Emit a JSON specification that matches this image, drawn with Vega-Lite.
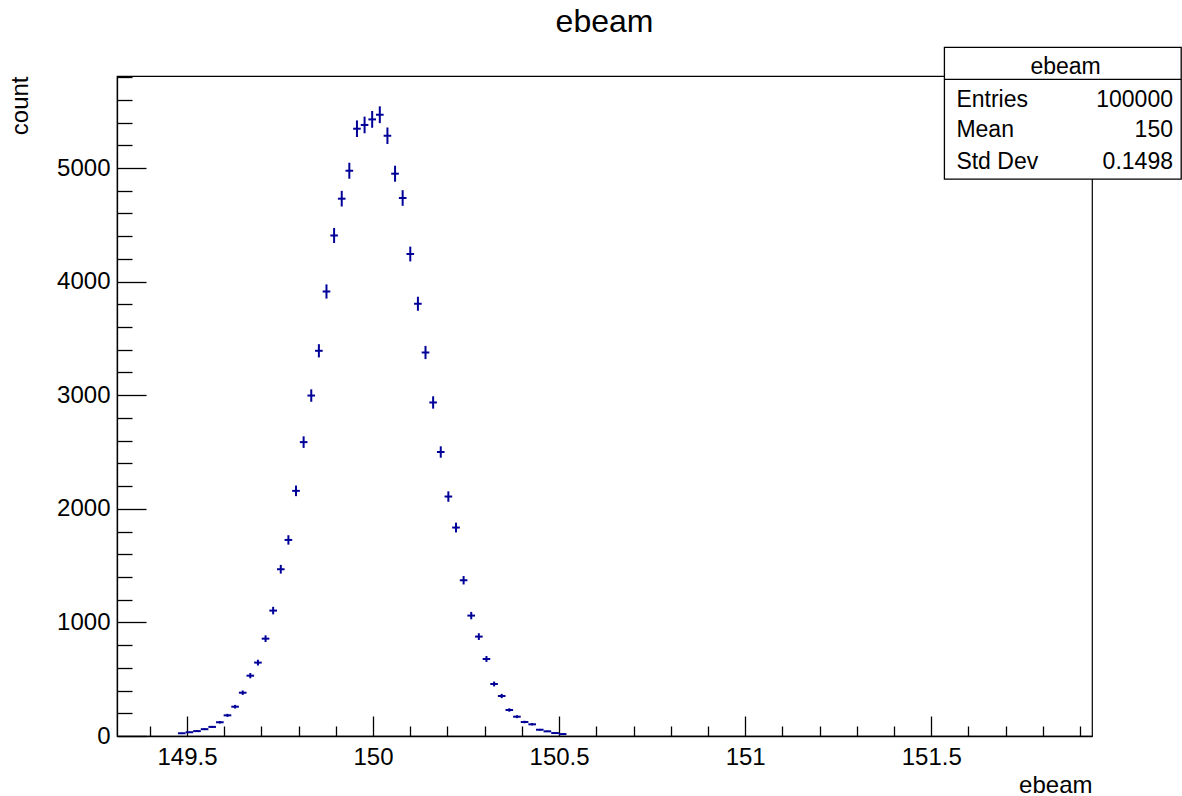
{
  "$schema": "https://vega.github.io/schema/vega-lite/v6.json",
  "width": 975,
  "height": 660,
  "autosize": {"type": "none"},
  "padding": {"left": 117, "top": 76, "right": 90, "bottom": 60},
  "background": "white",
  "config": {
    "font": "Liberation Sans",
    "view": {"stroke": "#000000", "strokeWidth": 1.2},
    "axis": {"grid": false}
  },
  "data": {
    "values": [
      {"x": 149.486, "x1": 149.4758, "x2": 149.4962, "y": 24, "err": 4.9},
      {"x": 149.5065, "x1": 149.4962, "x2": 149.5167, "y": 33, "err": 5.7},
      {"x": 149.5269, "x1": 149.5167, "x2": 149.5372, "y": 43, "err": 6.6},
      {"x": 149.5474, "x1": 149.5372, "x2": 149.5576, "y": 60, "err": 7.7},
      {"x": 149.5679, "x1": 149.5576, "x2": 149.5781, "y": 80, "err": 8.9},
      {"x": 149.5883, "x1": 149.5781, "x2": 149.5986, "y": 121, "err": 11.0},
      {"x": 149.6088, "x1": 149.5986, "x2": 149.6191, "y": 182, "err": 13.5},
      {"x": 149.6293, "x1": 149.6191, "x2": 149.6395, "y": 258, "err": 16.1},
      {"x": 149.6498, "x1": 149.6395, "x2": 149.66, "y": 381, "err": 19.5},
      {"x": 149.6702, "x1": 149.66, "x2": 149.6805, "y": 531, "err": 23.0},
      {"x": 149.6907, "x1": 149.6805, "x2": 149.7009, "y": 646, "err": 25.4},
      {"x": 149.7112, "x1": 149.7009, "x2": 149.7214, "y": 857, "err": 29.3},
      {"x": 149.7316, "x1": 149.7214, "x2": 149.7419, "y": 1104, "err": 33.2},
      {"x": 149.7521, "x1": 149.7419, "x2": 149.7623, "y": 1468, "err": 38.3},
      {"x": 149.7726, "x1": 149.7623, "x2": 149.7828, "y": 1726, "err": 41.5},
      {"x": 149.793, "x1": 149.7828, "x2": 149.8033, "y": 2158, "err": 46.5},
      {"x": 149.8135, "x1": 149.8033, "x2": 149.8238, "y": 2587, "err": 50.9},
      {"x": 149.834, "x1": 149.8238, "x2": 149.8442, "y": 2997, "err": 54.7},
      {"x": 149.8545, "x1": 149.8442, "x2": 149.8647, "y": 3391, "err": 58.2},
      {"x": 149.8749, "x1": 149.8647, "x2": 149.8852, "y": 3913, "err": 62.6},
      {"x": 149.8954, "x1": 149.8852, "x2": 149.9056, "y": 4406, "err": 66.4},
      {"x": 149.9159, "x1": 149.9056, "x2": 149.9261, "y": 4730, "err": 68.8},
      {"x": 149.9363, "x1": 149.9261, "x2": 149.9466, "y": 4976, "err": 70.5},
      {"x": 149.9568, "x1": 149.9466, "x2": 149.967, "y": 5346, "err": 73.1},
      {"x": 149.9773, "x1": 149.967, "x2": 149.9875, "y": 5379, "err": 73.3},
      {"x": 149.9977, "x1": 149.9875, "x2": 150.008, "y": 5428, "err": 73.7},
      {"x": 150.0182, "x1": 150.008, "x2": 150.0285, "y": 5469, "err": 74.0},
      {"x": 150.0387, "x1": 150.0285, "x2": 150.0489, "y": 5284, "err": 72.7},
      {"x": 150.0592, "x1": 150.0489, "x2": 150.0694, "y": 4950, "err": 70.4},
      {"x": 150.0796, "x1": 150.0694, "x2": 150.0899, "y": 4736, "err": 68.8},
      {"x": 150.1001, "x1": 150.0899, "x2": 150.1103, "y": 4243, "err": 65.1},
      {"x": 150.1206, "x1": 150.1103, "x2": 150.1308, "y": 3805, "err": 61.7},
      {"x": 150.141, "x1": 150.1308, "x2": 150.1513, "y": 3376, "err": 58.1},
      {"x": 150.1615, "x1": 150.1513, "x2": 150.1717, "y": 2936, "err": 54.2},
      {"x": 150.182, "x1": 150.1717, "x2": 150.1922, "y": 2500, "err": 50.0},
      {"x": 150.2024, "x1": 150.1922, "x2": 150.2127, "y": 2108, "err": 45.9},
      {"x": 150.2229, "x1": 150.2127, "x2": 150.2332, "y": 1835, "err": 42.8},
      {"x": 150.2434, "x1": 150.2332, "x2": 150.2536, "y": 1371, "err": 37.0},
      {"x": 150.2639, "x1": 150.2536, "x2": 150.2741, "y": 1060, "err": 32.6},
      {"x": 150.2843, "x1": 150.2741, "x2": 150.2946, "y": 875, "err": 29.6},
      {"x": 150.3048, "x1": 150.2946, "x2": 150.315, "y": 678, "err": 26.0},
      {"x": 150.3253, "x1": 150.315, "x2": 150.3355, "y": 458, "err": 21.4},
      {"x": 150.3457, "x1": 150.3355, "x2": 150.356, "y": 352, "err": 18.8},
      {"x": 150.3662, "x1": 150.356, "x2": 150.3764, "y": 229, "err": 15.1},
      {"x": 150.3867, "x1": 150.3764, "x2": 150.3969, "y": 170, "err": 13.0},
      {"x": 150.4071, "x1": 150.3969, "x2": 150.4174, "y": 123, "err": 11.1},
      {"x": 150.4276, "x1": 150.4174, "x2": 150.4379, "y": 103, "err": 10.1},
      {"x": 150.4481, "x1": 150.4379, "x2": 150.4583, "y": 55, "err": 7.4},
      {"x": 150.4686, "x1": 150.4583, "x2": 150.4788, "y": 41, "err": 6.4},
      {"x": 150.489, "x1": 150.4788, "x2": 150.4993, "y": 26, "err": 5.1},
      {"x": 150.5095, "x1": 150.4993, "x2": 150.5197, "y": 17, "err": 4.1}
    ]
  },
  "resolve": {"axis": {"x": "independent", "y": "independent"}},
  "layer": [
    {
      "mark": {"type": "errorbar", "color": "#000099", "thickness": 2, "ticks": false},
      "encoding": {
        "x": {
          "field": "x", "type": "quantitative",
          "scale": {"domain": [149.312, 151.932], "nice": false, "zero": false},
          "axis": {
            "orient": "bottom",
            "values": [149.5, 150, 150.5, 151, 151.5],
            "format": "~g",
            "title": "ebeam",
            "titleFont": "Liberation Sans", "titleFontSize": 24, "titleFontWeight": "normal", "titleColor": "#000000",
            "titleAnchor": "end", "titleAlign": "right", "titleBaseline": "alphabetic",
            "titleX": 975, "titleY": 56,
            "labelFont": "Liberation Sans", "labelFontSize": 24, "labelColor": "#000000",
            "labelPadding": 29, "labelBaseline": "top",
            "tickSize": -20, "tickColor": "#000000", "tickWidth": 1.3,
            "domainColor": "#000000", "domainWidth": 1.3
          }
        },
        "y": {
          "field": "y", "type": "quantitative",
          "scale": {"domain": [0, 5810], "nice": false, "zero": true},
          "axis": {
            "orient": "left",
            "values": [0, 1000, 2000, 3000, 4000, 5000],
            "format": "d",
            "title": "count",
            "titleFont": "Liberation Sans", "titleFontSize": 24, "titleFontWeight": "normal", "titleColor": "#000000",
            "titleAngle": 270, "titleAlign": "right", "titleBaseline": "middle",
            "titleX": -97, "titleY": 0,
            "labelFont": "Liberation Sans", "labelFontSize": 24, "labelColor": "#000000",
            "labelPadding": 36,
            "tickSize": -29, "tickColor": "#000000", "tickWidth": 1.3,
            "domainColor": "#000000", "domainWidth": 1.3
          }
        },
        "yError": {"field": "err"}
      }
    },
    {
      "mark": {"type": "rule", "color": "#000099", "strokeWidth": 2},
      "encoding": {
        "x": {
          "field": "x1", "type": "quantitative",
          "axis": {
            "orient": "bottom",
            "values": [149.4, 149.6, 149.7, 149.8, 149.9, 150.1, 150.2, 150.3, 150.4, 150.6, 150.7, 150.8, 150.9, 151.1, 151.2, 151.3, 151.4, 151.6, 151.7, 151.8, 151.9],
            "labels": false, "domain": false, "title": null,
            "tickSize": -10, "tickColor": "#000000", "tickWidth": 1.3
          }
        },
        "x2": {"field": "x2"},
        "y": {
          "field": "y", "type": "quantitative",
          "axis": {
            "orient": "left",
            "values": [200, 400, 600, 800, 1200, 1400, 1600, 1800, 2200, 2400, 2600, 2800, 3200, 3400, 3600, 3800, 4200, 4400, 4600, 4800, 5200, 5400, 5600, 5800],
            "labels": false, "domain": false, "title": null,
            "tickSize": -15, "tickColor": "#000000", "tickWidth": 1.3
          }
        }
      }
    },
    {
      "data": {"values": [{}]},
      "mark": {"type": "text", "font": "Liberation Sans", "fontSize": 32, "color": "#000000", "align": "center", "baseline": "alphabetic"},
      "encoding": {
        "x": {"datum": 150.622, "type": "quantitative", "axis": null},
        "y": {"datum": 6197, "type": "quantitative", "axis": null},
        "text": {"value": "ebeam"}
      }
    },
    {
      "data": {"values": [{}]},
      "mark": {"type": "rect", "fill": "#ffffff", "stroke": "#000000", "strokeWidth": 1.3, "clip": false},
      "encoding": {
        "x": {"datum": 151.5354, "type": "quantitative", "axis": null},
        "x2": {"datum": 152.1717},
        "y": {"datum": 6062, "type": "quantitative", "axis": null},
        "y2": {"datum": 4903}
      }
    },
    {
      "data": {"values": [{}]},
      "mark": {"type": "rule", "stroke": "#000000", "strokeWidth": 1.3, "clip": false},
      "encoding": {
        "x": {"datum": 151.5354, "type": "quantitative", "axis": null},
        "x2": {"datum": 152.1717},
        "y": {"datum": 5781, "type": "quantitative", "axis": null}
      }
    },
    {
      "data": {"values": [{}]},
      "mark": {"type": "text", "font": "Liberation Sans", "fontSize": 23, "color": "#000000", "align": "center", "baseline": "alphabetic"},
      "encoding": {
        "x": {"datum": 151.861, "type": "quantitative", "axis": null},
        "y": {"datum": 5825, "type": "quantitative", "axis": null},
        "text": {"value": "ebeam"}
      }
    },
    {
      "data": {"values": [{}]},
      "mark": {"type": "text", "font": "Liberation Sans", "fontSize": 23, "color": "#000000", "align": "left", "baseline": "alphabetic"},
      "encoding": {
        "x": {"datum": 151.5676, "type": "quantitative", "axis": null},
        "y": {"datum": 5540, "type": "quantitative", "axis": null},
        "text": {"value": "Entries"}
      }
    },
    {
      "data": {"values": [{}]},
      "mark": {"type": "text", "font": "Liberation Sans", "fontSize": 23, "color": "#000000", "align": "right", "baseline": "alphabetic"},
      "encoding": {
        "x": {"datum": 152.1496, "type": "quantitative", "axis": null},
        "y": {"datum": 5540, "type": "quantitative", "axis": null},
        "text": {"value": "100000"}
      }
    },
    {
      "data": {"values": [{}]},
      "mark": {"type": "text", "font": "Liberation Sans", "fontSize": 23, "color": "#000000", "align": "left", "baseline": "alphabetic"},
      "encoding": {
        "x": {"datum": 151.5676, "type": "quantitative", "axis": null},
        "y": {"datum": 5276, "type": "quantitative", "axis": null},
        "text": {"value": "Mean"}
      }
    },
    {
      "data": {"values": [{}]},
      "mark": {"type": "text", "font": "Liberation Sans", "fontSize": 23, "color": "#000000", "align": "right", "baseline": "alphabetic"},
      "encoding": {
        "x": {"datum": 152.1496, "type": "quantitative", "axis": null},
        "y": {"datum": 5276, "type": "quantitative", "axis": null},
        "text": {"value": "150"}
      }
    },
    {
      "data": {"values": [{}]},
      "mark": {"type": "text", "font": "Liberation Sans", "fontSize": 23, "color": "#000000", "align": "left", "baseline": "alphabetic"},
      "encoding": {
        "x": {"datum": 151.5676, "type": "quantitative", "axis": null},
        "y": {"datum": 4989, "type": "quantitative", "axis": null},
        "text": {"value": "Std Dev"}
      }
    },
    {
      "data": {"values": [{}]},
      "mark": {"type": "text", "font": "Liberation Sans", "fontSize": 23, "color": "#000000", "align": "right", "baseline": "alphabetic"},
      "encoding": {
        "x": {"datum": 152.1496, "type": "quantitative", "axis": null},
        "y": {"datum": 4989, "type": "quantitative", "axis": null},
        "text": {"value": "0.1498"}
      }
    }
  ]
}
